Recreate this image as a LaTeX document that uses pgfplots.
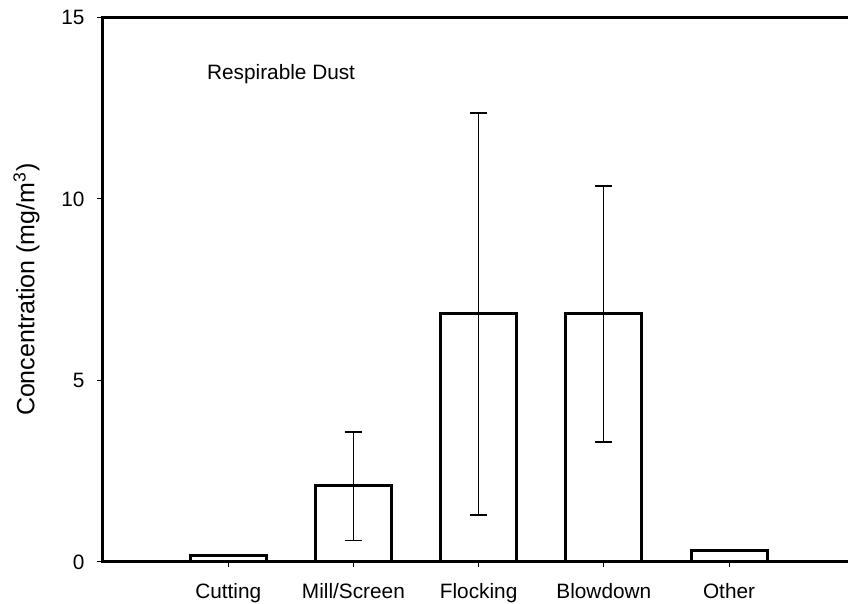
\documentclass[border=0pt]{standalone}
\usepackage{pgfplots}
\pgfplotsset{compat=1.18}
\usepackage{fontspec}
\setmainfont{Liberation Sans}
\usetikzlibrary{calc}
\begin{document}
\begin{tikzpicture}
\begin{axis}[
  scale only axis,
  width=372.5pt, height=272.25pt,
  xmin=0, xmax=5.95, ymin=0, ymax=15,
  axis line style={draw=none},
  clip=false,
  ytick={0,5,10,15},
  xtick={1,2,3,4,5},
  xticklabels={Cutting, Mill/Screen, Flocking, Blowdown, Other},
  tick align=outside,
  xtick pos=bottom, ytick pos=left,
  major tick length=2.75pt,
  tick style={black, line width=0.5pt},
  /pgf/number format/assume math mode=true,
  tick label style={font=\fontsize{10.4}{12}\selectfont},
  yticklabel style={xshift=-3pt},
  xticklabel style={yshift=-4.5pt},
  ylabel={Concentration (mg/m\textsuperscript{3})},
  ylabel style={font=\fontsize{12.5}{14}\selectfont, yshift=4pt},
  bar width=0.607,
]
\addplot[ybar, fill=white, draw=black, line width=1.5pt] coordinates {(1,0.19) (2,2.12) (3,6.84) (4,6.85) (5,0.33)};
\addplot[draw=none, mark=none, forget plot, error bars/.cd, y dir=both, y explicit, error bar style={draw=black, solid, line width=0.5pt}, error mark options={draw=black, solid, rotate=90, mark size=4.25pt, line width=0.7pt}] coordinates {(2,2.12) += (0,1.46) -= (0,1.52) (3,6.84) += (0,5.53) -= (0,5.55) (4,6.85) += (0,3.51) -= (0,3.54)};
\draw[line width=1.5pt] (axis cs:5.95,15) -- (axis cs:0,15) -- (axis cs:0,0) -- (axis cs:5.95,0);
\node[anchor=base west, font=\fontsize{10.4}{12}\selectfont] at (axis cs:0.775,13.3) {Respirable Dust};
\end{axis}
\pgfresetboundingbox
\path[use as bounding box] ($(current axis.south west)+(-51.5pt,-21pt)$) rectangle ($(current axis.north east)+(0pt,8.75pt)$);
\end{tikzpicture}
\end{document}
